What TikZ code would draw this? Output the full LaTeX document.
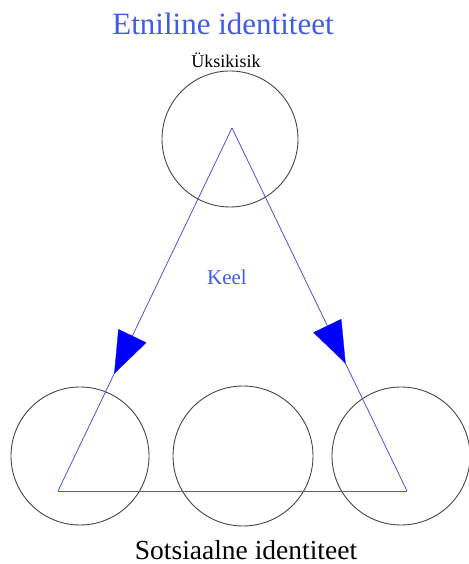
\documentclass[tikz,border=0pt]{standalone}
\usepackage{fontspec}
\setmainfont{Liberation Serif}
\usetikzlibrary{arrows.meta,decorations.markings}
\definecolor{titleblue}{RGB}{64,92,228}
\definecolor{edgeblue}{RGB}{80,80,225}
\definecolor{circgray}{RGB}{70,70,70}
\tikzset{
  ring/.style={circle, draw=circgray, line width=0.9pt, inner sep=0pt},
  edgeline/.style={draw=edgeblue, line width=0.8pt},
  bluetext/.style={text=titleblue, anchor=base, inner sep=0pt},
  blacktext/.style={text=black, anchor=base, inner sep=0pt},
  arrowat/.style={postaction={decorate, decoration={markings,
      mark=at position #1 with {\arrow[blue, fill=blue, line width=0.3pt]{Triangle[length=42pt,width=31pt]}}}}}
}
\begin{document}
\begin{tikzpicture}[x=1pt,y=1pt]
\useasboundingbox (0,0) rectangle (468,564);
% titles
\node[bluetext] (title) at (223,529) {\fontsize{31}{36}\selectfont Etniline identiteet};
\node[blacktext] (indiv) at (226,496) {\fontsize{18}{21}\selectfont Üksikisik};
\node[bluetext] (keel) at (227,279) {\fontsize{21}{25}\selectfont Keel};
\node[blacktext] (social) at (246,5) {\fontsize{27.5}{32}\selectfont Sotsiaalne identiteet};
% circles
\node[ring, minimum size=136pt] (top) at (230,425) {};
\node[ring, minimum size=138pt] (left) at (80,108) {};
\node[ring, minimum size=140pt] (mid) at (243,108) {};
\node[ring, minimum size=138pt] (right) at (401,108) {};
% triangle
\coordinate (A) at (232,436);
\coordinate (BL) at (58,73);
\coordinate (BR) at (407,73);
\draw[edgeline, arrowat=0.677] (A) -- (BL);
\draw[edgeline, arrowat=0.649] (A) -- (BR);
\draw[edgeline] (BL) -- (BR);
\end{tikzpicture}
\end{document}
